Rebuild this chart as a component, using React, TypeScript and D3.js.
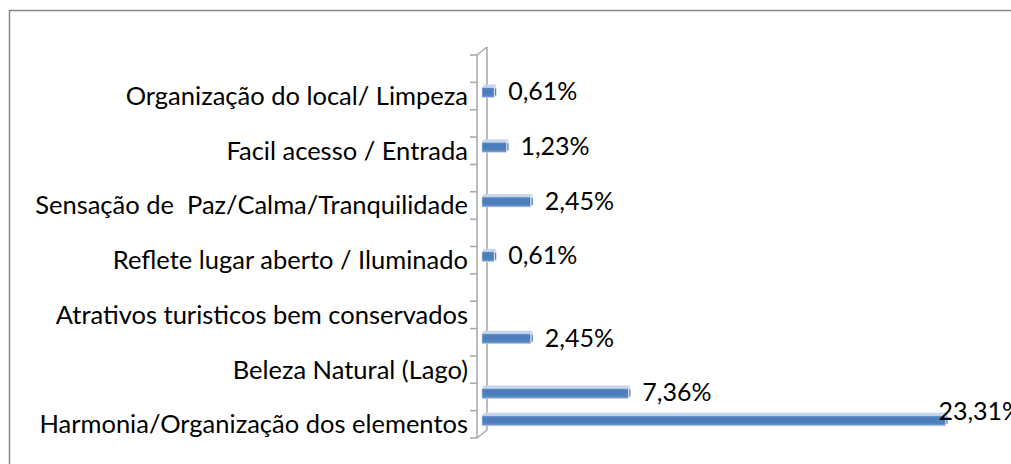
import React from "react";
import * as d3 from "d3";

// 14 category slots, Excel only shows every other label
const categories = [
  "", "Organização do local/ Limpeza",
  "", "Facil acesso / Entrada",
  "", "Sensação de  Paz/Calma/Tranquilidade",
  "", "Reflete lugar aberto / Iluminado",
  "", "Atrativos turisticos bem conservados",
  "", "Beleza Natural (Lago)",
  "", "Harmonia/Organização dos elementos",
];
const values: (number | null)[] = [
  null, 0.61, null, 1.23, null, 2.45, null, 0.61, null, null, 2.45, null, 7.36, 23.31,
];

const W = 1011;
const H = 464;
const FONT = "Lato, 'Open Sans', sans-serif";
const depth = { dx: 10, dy: -8 };

const fmt = (v: number) => v.toFixed(2).replace(".", ",") + "%";

export default function App() {
  const y = d3.scaleBand<number>().domain(d3.range(categories.length)).range([55, 438]).paddingInner(0.635).paddingOuter(0.3175);
  const x = d3.scaleLinear().domain([0, 25]).range([477, 477 + 497]);
  const axisX = x(0);
  const top = y.range()[0];
  const bottom = y.range()[1];
  const step = y.step();
  const tickYs = d3.range(categories.length + 1).map((i) => top + i * step);

  return (
    <div style={{ position: "absolute", left: 0, top: 0 }}>
      <svg width={W} height={H} style={{ display: "block", background: "#fff" }}>
        <defs>
          <linearGradient id="barGrad" x1="0" y1="0" x2="0" y2="1">
            <stop offset="0" stopColor="#5b8bc6" />
            <stop offset="0.3" stopColor="#4a7cbb" />
            <stop offset="0.75" stopColor="#4f81bd" />
            <stop offset="1" stopColor="#7fa3d2" />
          </linearGradient>
        </defs>
        <rect x={9.5} y={10.5} width={W + 20} height={H + 20} fill="none" stroke="#8a8a8a" strokeWidth={1.5} />

        {/* 3D axis wall */}
        <g stroke="#a6a6a6" strokeWidth={1.5} fill="none">
          <line x1={axisX} y1={top} x2={axisX} y2={bottom} />
          <line x1={axisX + depth.dx} y1={top + depth.dy} x2={axisX + depth.dx} y2={bottom + depth.dy} />
          <line x1={axisX} y1={top} x2={axisX + depth.dx} y2={top + depth.dy} />
          <line x1={axisX} y1={bottom} x2={axisX + depth.dx} y2={bottom + depth.dy} />
          {tickYs.map((ty, i) => (
            <line key={i} x1={axisX - 7} y1={ty} x2={axisX} y2={ty} />
          ))}
        </g>

        {/* category labels */}
        <g fontFamily={FONT} fontSize={25.5} fill="#000" textAnchor="end">
          {categories.map((c, i) =>
            c ? (
              <text key={i} x={468} y={(y(i) ?? 0) + y.bandwidth() / 2} dy="0.35em" style={{ whiteSpace: "pre" }}>
                {c}
              </text>
            ) : null
          )}
        </g>

        {/* bars */}
        {values.map((v, i) => {
          if (v == null) return null;
          const h = y.bandwidth();
          const y0 = (y(i) ?? 0) - 3.5;
          const x0 = axisX + 5;
          const w = x(v) - x(0);
          const end = x0 + w;
          const cy = y0 + h / 2;
          const overflow = end + 15 + 80 > W + 20 && v > 20;
          return (
            <g key={i}>
              <path
                d={`M${x0},${y0} L${x0 + 2},${y0 - 3} L${end + 2},${y0 - 3} L${end},${y0} Z`}
                fill="#c8d6ea"
              />
              <rect x={x0} y={y0} width={w} height={h} fill="url(#barGrad)" stroke="#c5d4ea" strokeWidth={0.6} />
              <path
                d={`M${end},${y0} L${end + 2},${y0 - 3} L${end + 2},${y0 + h - 2} L${end},${y0 + h} Z`}
                fill="#d3deef"
              />
              <line x1={end + 1.5} y1={y0 + 1} x2={end + 1.5} y2={y0 + h - 2} stroke="#4f81bd" strokeWidth={1.2} />
              <text
                x={overflow ? end - 7 : end + 14}
                y={overflow ? cy - 10 : cy - 1}
                dy="0.35em"
                fontFamily={FONT}
                fontSize={25}
                fill="#000"
              >
                {fmt(v)}
              </text>
            </g>
          );
        })}
      </svg>
    </div>
  );
}
